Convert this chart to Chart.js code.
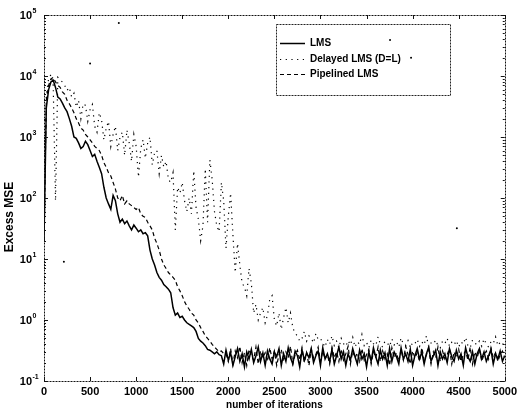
<!DOCTYPE html>
<html>
<head>
<meta charset="utf-8">
<script src="https://cdn.jsdelivr.net/npm/chart.js@4"></script>
<style>
  html, body { margin: 0; padding: 0; background: #fff; }
  #wrap { width: 521px; height: 413px; }
</style>
</head>
<body>
<div id="wrap"><canvas id="c" width="521" height="413"></canvas></div>
<script>
// ---------------- data ----------------
const iterStep = 25; // samples every 25 iterations, 0..5000

const lmsMSE = [
  20,3000,6000,8000,8500,6500,4500,4200,3600,3000,2600,2000,1500,1000,950,800,650,700,850,750,
  600,480,520,400,320,250,150,100,80,65,110,90,55,40,45,38,42,35,30,36,
  32,28,30,26,27,24,14,10,8,6,5,4.5,3.8,3.5,3.2,2.8,1.6,1.2,1.3,1.1,
  1.15,1.0,0.9,0.85,0.8,0.75,0.65,0.5,0.45,0.42,0.38,0.33,0.32,0.30,0.28,0.30,0.27,
  0.26,0.19,0.32,0.22,0.29,0.18,0.25,0.34,0.21,0.28,0.17,0.30,0.23,0.33,0.20,0.26,0.36,0.21,0.29,0.18,
  0.31,0.23,0.19,0.30,0.25,0.34,0.18,0.28,0.21,0.35,0.24,0.19,0.31,0.26,0.17,0.32,0.22,0.29,0.24,0.34,
  0.20,0.26,0.31,0.18,0.35,0.23,0.28,0.21,0.33,0.19,0.26,0.36,0.23,0.30,0.18,0.28,0.22,0.34,0.25,0.19,
  0.32,0.23,0.28,0.17,0.30,0.21,0.35,0.25,0.19,0.32,0.23,0.29,0.18,0.34,0.21,0.30,0.25,0.19,0.35,0.23,
  0.28,0.21,0.33,0.18,0.26,0.34,0.23,0.30,0.19,0.28,0.36,0.21,0.26,0.32,0.18,0.30,0.23,0.28,0.20,0.34,
  0.25,0.21,0.32,0.23,0.28,0.18,0.35,0.25,0.21,0.30,0.19,0.28,0.34,0.23,0.30,0.21,0.26,0.33,0.19,0.28,
  0.23,0.31,0.21,0.26
];

const delayedMSE = [
  20,5000,9000,10500,7000,90,9500,8500,8000,7000,5800,6500,4500,5200,3100,4000,2000,3500,3300,1800,
  2800,3400,1500,1200,2500,1900,900,1400,1800,700,1100,1500,600,1000,1200,500,1300,800,400,1100,
  700,220,650,900,450,800,1000,350,550,600,250,500,320,400,200,180,260,30,150,120,
  180,90,60,100,55,280,70,45,20,35,300,40,420,200,60,35,28,180,90,15,
  50,120,25,6,18,8,4,3.5,2.5,7,4,1.3,1.8,1.0,1.3,1.6,0.9,1.2,2.2,2.5,
  1.0,0.8,1.3,0.7,1.1,1.6,0.9,1.3,0.75,0.6,0.55,0.45,0.5,0.65,0.45,0.55,0.5,0.42,0.6,0.48,
  0.5,
  0.42,0.36,0.48,0.40,0.55,0.38,0.45,0.35,0.50,0.41,0.37,0.46,0.39,0.52,0.36,0.44,0.40,0.58,0.38,0.43,
  0.35,0.47,0.41,0.38,0.53,0.40,0.36,0.45,0.42,0.37,0.49,0.39,0.44,0.36,0.51,0.40,0.38,0.46,0.35,0.43,
  0.41,0.48,0.37,0.44,0.39,0.55,0.36,0.42,0.40,0.47,0.38,0.35,0.45,0.41,0.50,0.37,0.43,0.39,0.46,0.36,
  0.44,0.40,0.52,0.38,0.35,0.47,0.42,0.39,0.45,0.37,0.49,0.40,0.36,0.44,0.41,0.53,0.38,0.43,0.39,0.46
];

const pipelinedMSE = [
  20,4000,7000,9000,9500,8000,7000,6500,5500,5000,4000,3500,3000,2500,2000,1700,1400,1300,1100,1000,
  900,800,700,650,600,500,380,320,260,230,180,140,100,90,110,80,90,80,75,70,
  65,70,55,50,48,40,35,30,22,18,14,10,8,7,6,5.5,5,4.5,3.5,3,
  2.5,2,1.7,1.5,1.3,1.2,1.0,0.9,0.75,0.65,0.55,0.5,0.45,0.40,0.36,0.33,0.30,0.31,0.28,
  0.28,0.21,0.34,0.19,0.31,0.24,0.37,0.20,0.29,0.18,0.33,0.26,0.22,0.36,0.19,0.31,0.24,0.29,0.21,0.35,
  0.23,0.31,0.18,0.27,0.33,0.21,0.30,0.24,0.37,0.19,0.27,0.32,0.22,0.35,0.20,0.29,0.18,0.33,0.24,0.27,
  0.36,0.21,0.31,0.23,0.27,0.19,0.35,0.24,0.30,0.21,0.33,0.22,0.28,0.37,0.19,0.31,0.24,0.29,0.21,0.34,
  0.22,0.27,0.33,0.19,0.30,0.24,0.36,0.21,0.31,0.23,0.28,0.18,0.35,0.24,0.29,0.21,0.33,0.22,0.37,0.27,
  0.19,0.31,0.24,0.29,0.21,0.35,0.22,0.27,0.33,0.19,0.30,0.24,0.36,0.21,0.31,0.23,0.27,0.34,0.19,0.30,
  0.24,0.33,0.21,0.27,0.31,0.22,0.36,0.19,0.30,0.24,0.33,0.21,0.27,0.31,0.23,0.35,0.24,0.29,0.21,0.27,
  0.31,0.24
];

// isolated specks visible in the plot
const strayIter = [216, 500, 812, 3755, 3983, 4480];
const strayMSE  = [9, 16000, 74000, 39000, 20000, 32];

const seriesLabels = ['LMS', 'Delayed LMS (D=L)', 'Pipelined LMS'];
const xTicks = [0,500,1000,1500,2000,2500,3000,3500,4000,4500,5000];
const yTicks = [0.1,1,10,100,1000,10000,100000];
const yExponents = ['-1','0','1','2','3','4','5'];
const xTitle = 'number of iterations';
const yTitle = 'Excess MSE';

// ---------------- build ----------------
const toPts = arr => arr.map((v, i) => ({ x: i * iterStep, y: v }));
const FONT = "'Liberation Sans', Arial, Helvetica, sans-serif";

const frameAndTicks = {
  id: 'frameAndTicks',
  afterDatasetsDraw(chart) {
    const { ctx, chartArea: a, scales: { x, y } } = chart;
    ctx.save();
    ctx.strokeStyle = '#111';
    ctx.lineWidth = 1;
    ctx.beginPath();
    xTicks.forEach(t => {
      const px = Math.round(x.getPixelForValue(t)) + 0.5;
      ctx.moveTo(px, a.bottom); ctx.lineTo(px, a.bottom - 4);
      ctx.moveTo(px, a.top); ctx.lineTo(px, a.top + 4);
    });
    yTicks.forEach((t, i) => {
      const py = Math.round(y.getPixelForValue(t)) + 0.5;
      ctx.moveTo(a.left, py); ctx.lineTo(a.left + 4, py);
      ctx.moveTo(a.right, py); ctx.lineTo(a.right - 4, py);
      if (i < yTicks.length - 1) {
        for (let m = 2; m <= 9; m++) {
          const pm = Math.round(y.getPixelForValue(t * m)) + 0.5;
          ctx.moveTo(a.left, pm); ctx.lineTo(a.left + 2, pm);
          ctx.moveTo(a.right, pm); ctx.lineTo(a.right - 2, pm);
        }
      }
    });
    ctx.stroke();
    ctx.setLineDash([2, 1]);
    ctx.strokeRect(Math.round(a.left) + 0.5, Math.round(a.top) + 0.5,
                   Math.round(a.right - a.left), Math.round(a.bottom - a.top));
    ctx.setLineDash([]);
    // y tick labels: "10" with raised exponent
    ctx.fillStyle = '#000';
    ctx.textBaseline = 'middle';
    yTicks.forEach((t, i) => {
      const py = y.getPixelForValue(t);
      ctx.font = 'bold 11px ' + FONT;
      ctx.textAlign = 'right';
      ctx.fillText('10', a.left - 12, py + 1);
      ctx.font = 'bold 7px ' + FONT;
      ctx.textAlign = 'left';
      ctx.fillText(yExponents[i], a.left - 11.5, py - 4);
    });
    // y axis title
    ctx.save();
    ctx.translate(10, (a.top + a.bottom) / 2 + 19);
    ctx.rotate(-Math.PI / 2);
    ctx.font = 'bold 12px ' + FONT;
    ctx.textAlign = 'center';
    ctx.textBaseline = 'middle';
    ctx.fillText(yTitle, 0, 0);
    ctx.restore();
    ctx.restore();
  }
};

const boxLegend = {
  id: 'boxLegend',
  beforeDatasetsDraw(chart) {
    const { ctx, chartArea: a } = chart;
    const bx = a.left + 232, by = a.top + 9, bw = 174, bh = 71;
    ctx.save();
    ctx.fillStyle = '#fff';
    ctx.fillRect(bx, by, bw, bh);
    ctx.strokeStyle = '#222';
    ctx.lineWidth = 1;
    ctx.setLineDash([2, 1]);
    ctx.strokeRect(bx + 0.5, by + 0.5, bw, bh);
    const rows = [19, 35, 50];
    chart.data.datasets.forEach((ds, i) => {
      if (i >= seriesLabels.length) return;
      const yy = by + rows[i] + 0.5;
      ctx.setLineDash(ds.borderDash || []);
      ctx.lineWidth = ds.borderWidth;
      ctx.strokeStyle = '#000';
      ctx.beginPath();
      ctx.moveTo(bx + 4, yy); ctx.lineTo(bx + 29, yy);
      ctx.stroke();
      ctx.setLineDash([]);
      ctx.fillStyle = '#000';
      ctx.font = 'bold 10px ' + FONT;
      ctx.textBaseline = 'middle';
      ctx.textAlign = 'left';
      ctx.fillText(ds.label, bx + 34, yy);
    });
    ctx.restore();
  }
};

new Chart(document.getElementById('c'), {
  type: 'line',
  data: {
    datasets: [
      { label: seriesLabels[0], data: toPts(lmsMSE), borderColor: '#000', borderWidth: 1.5,
        pointRadius: 0, tension: 0 },
      { label: seriesLabels[1], data: toPts(delayedMSE), borderColor: '#000', borderWidth: 1.2,
        borderDash: [1.2, 4.5], pointRadius: 0, tension: 0 },
      { label: seriesLabels[2], data: toPts(pipelinedMSE), borderColor: '#000', borderWidth: 1.2,
        borderDash: [4, 3], pointRadius: 0, tension: 0 },
      { label: 'stray', data: strayIter.map((v, i) => ({ x: v, y: strayMSE[i] })),
        showLine: false, pointRadius: 1, pointBorderWidth: 0, backgroundColor: '#000', borderColor: '#000' }
    ]
  },
  options: {
    responsive: false,
    animation: false,
    events: [],
    layout: { padding: { top: 15, right: 14, left: 0, bottom: 0 } },
    plugins: { legend: { display: false }, tooltip: { enabled: false } },
    scales: {
      x: {
        type: 'linear', min: 0, max: 5000,
        afterBuildTicks: s => { s.ticks = xTicks.map(v => ({ value: v })); },
        afterFit: s => { s.height = 32; },
        grid: { display: false, drawTicks: false },
        border: { display: false },
        ticks: { color: '#000', padding: 4, maxRotation: 0, autoSkip: false,
                 callback: v => String(v),
                 font: { family: FONT, weight: 'bold', size: 11 } },
        title: { display: true, text: xTitle, color: '#000', padding: { top: 0, bottom: 2 },
                 font: { family: FONT, weight: 'bold', size: 10 } }
      },
      y: {
        type: 'logarithmic', min: 0.1, max: 100000,
        afterBuildTicks: s => { s.ticks = yTicks.map(v => ({ value: v })); },
        afterFit: s => { s.width = 44; },
        grid: { display: false, drawTicks: false },
        border: { display: false },
        ticks: { display: false },
        title: { display: false }
      }
    }
  },
  plugins: [frameAndTicks, boxLegend]
});
</script>
</body>
</html>
